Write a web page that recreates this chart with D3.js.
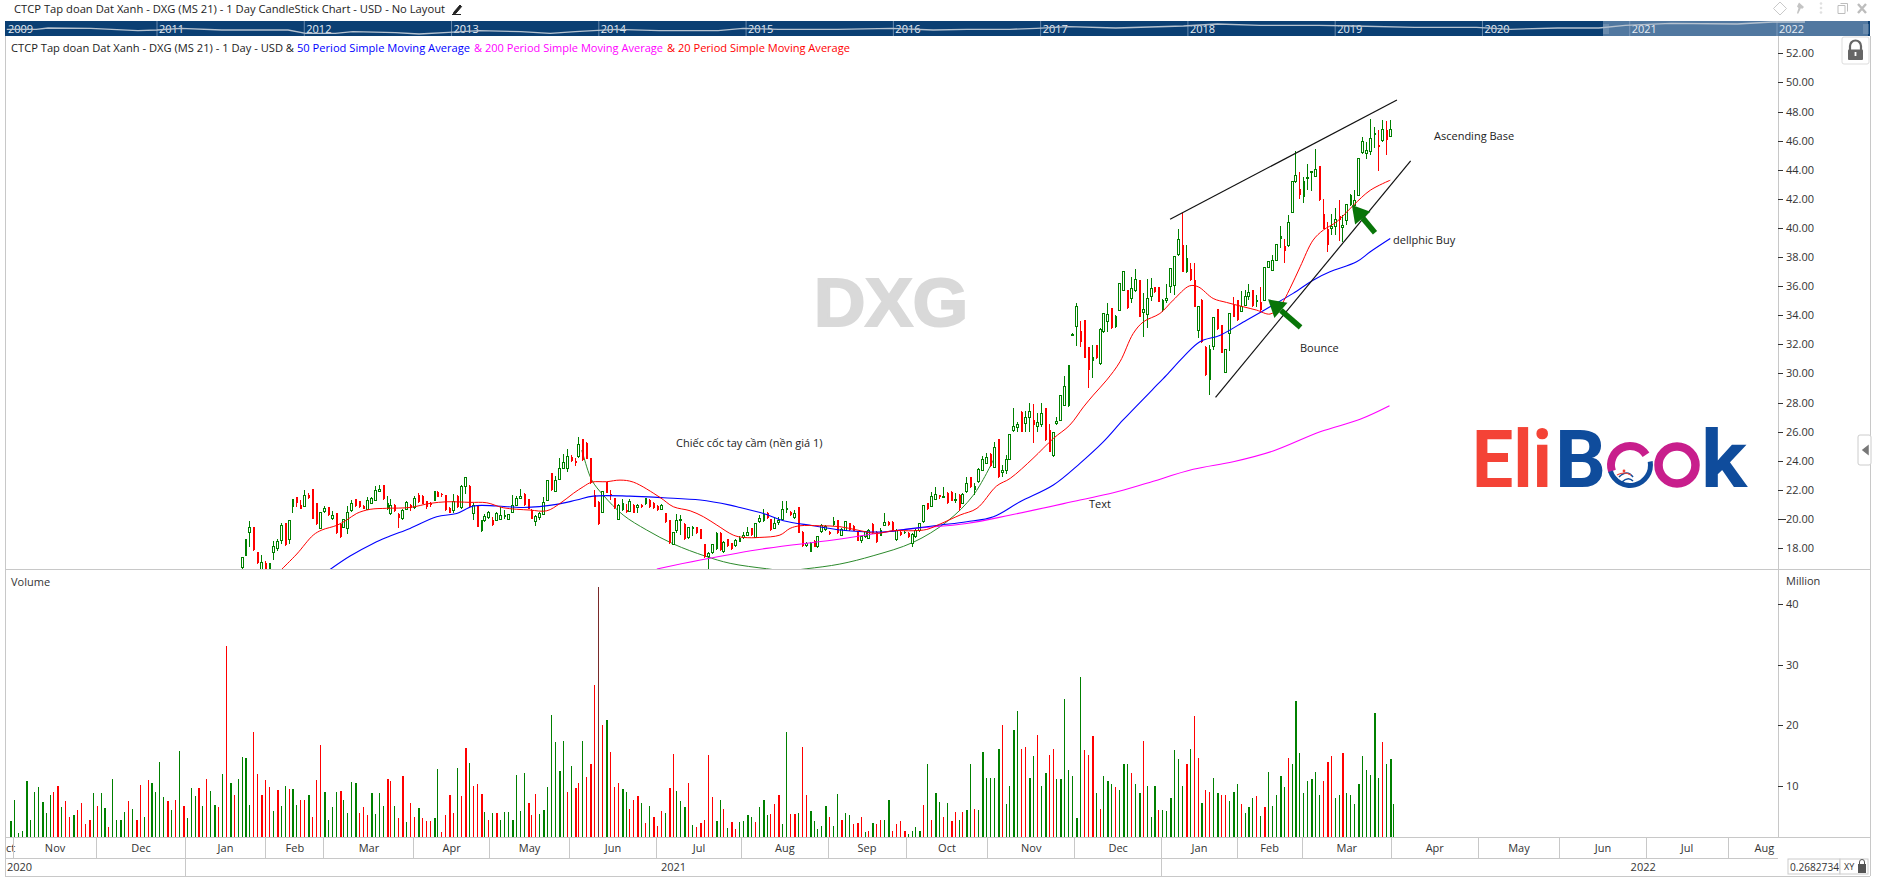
<!DOCTYPE html>
<html><head><meta charset="utf-8">
<script src="https://cdn.jsdelivr.net/npm/d3@7/dist/d3.min.js"></script>
<style>html,body{margin:0;padding:0;background:#fff;overflow:hidden}svg{display:block}text{font-family:"Open Sans",sans-serif}</style>
</head><body><svg id="c" width="1877" height="885"></svg>
<script>
// ---- DATA ----
const lastIndex = 352;              // sessions in view, 0..352
const firstCandle = 59;             // earlier candles lie below the price pane
// [high, open, close, low]
const ohlc = [
[17.4,16.65,17.36,16.45],[18.65,17.47,18.6,17.45],[19.85,19.05,19.42,18.1],[19.45,19.42,17.86,17.8],[17.75,17.72,16.95,16.9],[17.5,16.55,17.0,16.4],[17.1,16.95,16.53,16.4],[17.0,16.53,16.95,16.4],[18.5,17.68,18.14,17.18],[18.6,18.0,18.46,17.82],
[19.74,18.55,19.56,18.27],[19.75,19.69,18.2,18.15],[19.92,18.6,19.9,18.27],[21.36,20.84,21.34,20.43],[21.5,21.48,21.07,20.8],[21.3,20.95,20.7,20.65],[21.98,20.84,21.62,20.84],[21.8,21.62,21.43,21.39],[22.03,22.03,20.02,20.0],[21.07,21.07,19.65,19.6],
[20.43,19.33,20.43,19.33],[20.88,20.52,20.75,20.43],[20.84,20.84,20.29,20.2],[20.56,20.02,20.24,19.92],[20.4,20.38,19.0,18.95],[19.65,19.65,18.73,18.7],[20.02,19.42,19.97,19.37],[20.89,19.33,20.47,18.96],[21.3,20.56,21.07,20.5],[21.4,21.34,20.89,20.85],
[21.25,21.2,20.8,20.75],[20.95,20.89,20.7,20.65],[21.48,20.66,21.27,20.61],[21.5,21.07,21.39,21.0],[22.26,21.3,21.94,21.2],[22.3,21.89,22.03,21.89],[22.3,22.3,21.34,21.3],[21.6,20.65,21.07,20.6],[21.34,20.34,20.95,20.27],[21.05,20.98,20.56,20.5],
[20.38,20.34,20.06,19.37],[20.7,20.02,20.61,19.95],[21.2,20.66,21.11,20.6],[21.02,20.93,20.75,20.56],[21.6,20.79,21.39,20.7],[21.75,21.66,21.18,21.1],[21.65,21.57,21.02,21.0],[21.25,21.2,20.79,20.7],[21.15,21.11,20.93,20.8],[21.95,21.23,21.92,21.2],
[21.9,21.87,21.53,21.5],[21.75,21.71,21.62,21.48],[21.65,21.62,20.61,20.58],[20.8,20.75,20.43,20.4],[21.71,20.61,21.18,20.38],[21.62,21.57,20.79,20.75],[22.35,20.79,22.26,20.7],[22.86,22.26,22.86,21.7],[22.3,22.26,20.79,20.75],[21.07,20.34,20.89,19.92],
[20.92,20.89,19.47,19.45],[19.95,19.15,19.92,19.1],[20.34,19.88,20.15,19.81],[20.56,20.11,20.43,19.97],[20.1,19.92,19.56,19.5],[20.45,19.92,20.38,19.85],[20.84,19.97,20.24,19.92],[20.6,20.11,20.27,20.0],[20.35,19.97,20.31,19.9],[21.64,20.43,20.93,20.38],
[21.6,20.93,21.43,20.9],[22.03,21.39,21.53,21.34],[21.75,21.71,20.95,20.9],[21.38,21.34,20.7,20.65],[20.65,20.61,20.02,20.0],[20.3,19.83,20.2,19.5],[20.5,20.11,20.38,19.9],[21.48,20.29,21.11,20.27],[22.7,21.25,22.65,21.2],[23.15,23.13,21.98,21.9],
[22.95,21.89,22.67,21.85],[24.16,22.72,23.47,22.67],[24.45,23.47,23.86,23.4],[24.78,23.47,24.32,23.24],[24.4,24.27,24.0,23.9],[24.16,24.0,23.82,23.63],[25.6,24.27,25.14,24.2],[25.5,25.47,24.05,24.0],[25.3,25.24,24.14,24.1],[24.2,24.16,22.44,22.4],
[22.0,21.64,20.84,20.8],[21.25,21.18,19.65,19.6],[21.9,20.45,21.87,20.4],[22.55,22.53,21.8,21.75],[22.0,21.71,21.62,21.3],[21.45,21.41,20.73,20.7],[21.0,19.99,20.95,19.95],[21.35,20.6,21.07,20.55],[21.0,20.61,20.47,20.4],[21.4,20.5,21.18,20.45],
[21.0,20.95,20.43,20.4],[21.0,20.79,20.95,20.4],[21.02,20.98,20.79,20.75],[21.45,21.02,21.41,20.98],[21.35,21.3,20.79,20.75],[21.15,21.11,20.75,20.7],[20.95,20.89,20.61,20.55],[21.0,20.66,20.95,20.6],[20.42,20.38,19.81,19.75],[19.95,19.92,18.37,18.3],
[19.1,18.27,19.05,18.2],[20.31,19.19,19.92,19.0],[20.27,19.88,19.97,18.89],[19.7,19.65,18.6,18.55],[19.45,18.73,19.42,18.65],[19.5,19.33,19.42,18.8],[19.45,19.42,19.0,18.95],[19.32,19.28,18.64,18.6],[18.3,18.27,17.4,17.35],[17.7,17.4,17.63,16.5],
[18.3,17.68,18.27,17.6],[19.1,17.91,19.05,17.85],[19.1,19.05,17.86,17.8],[18.45,17.73,18.37,17.65],[18.65,18.6,18.14,18.1],[18.35,18.32,17.93,17.88],[18.64,18.16,18.5,18.09],[18.8,18.44,18.71,18.4],[19.1,18.73,18.85,18.6],[19.47,18.89,19.08,18.85],
[19.4,19.35,18.89,18.85],[19.75,18.73,19.69,18.7],[20.3,19.81,20.06,19.7],[20.66,19.88,20.34,19.8],[20.48,20.43,20.04,20.0],[20.0,19.97,19.24,19.2],[20.15,19.35,19.69,19.3],[20.1,19.74,19.88,19.6],[21.23,19.97,20.66,19.97],[21.2,20.61,20.73,20.4],
[20.55,20.5,20.27,20.2],[20.6,20.11,20.38,20.0],[20.85,20.79,19.05,19.0],[19.15,19.12,18.16,18.1],[18.4,18.18,18.32,18.1],[18.4,17.75,18.32,17.7],[18.55,18.5,18.09,18.05],[18.85,18.09,18.78,18.0],[19.65,19.12,19.58,19.05],[19.6,19.28,19.47,19.2],
[19.15,19.12,18.94,18.9],[20.11,19.56,19.88,19.5],[19.95,19.92,19.0,18.95],[19.35,18.89,19.28,18.8],[19.85,19.24,19.81,19.2],[19.75,19.69,19.24,19.2],[19.55,19.51,19.19,19.15],[19.15,19.12,18.5,18.45],[18.85,18.5,18.76,18.35],[19.2,18.78,19.12,18.7],
[19.3,18.64,19.24,18.6],[19.7,19.65,19.0,18.95],[19.15,19.12,18.39,18.35],[19.35,18.85,19.26,18.8],[20.38,19.53,19.76,19.5],[19.85,19.81,19.56,19.5],[19.85,19.81,19.24,19.2],[19.3,18.62,19.24,18.5],[19.15,19.12,18.89,18.85],[19.2,19.01,19.12,18.95],
[19.1,19.05,18.73,18.7],[19.0,18.32,18.94,18.1],[19.3,18.78,19.24,18.7],[19.75,19.19,19.69,19.1],[20.95,19.81,20.89,19.75],[21.1,21.07,20.66,20.6],[21.87,20.84,21.53,20.8],[22.17,21.34,21.69,21.3],[21.65,21.62,21.48,21.4],[22.17,21.48,21.53,21.45],
[21.85,21.8,21.11,21.05],[21.9,21.87,21.25,21.2],[21.76,21.25,21.34,21.11],[21.7,21.64,20.73,20.55],[21.75,21.07,21.69,21.0],[22.85,21.87,22.44,21.8],[22.9,22.85,22.17,22.1],[22.44,21.98,22.28,21.64],[23.5,22.56,23.43,22.5],[24.32,23.36,24.09,23.3],
[24.55,23.82,24.23,23.75],[24.5,24.46,23.63,23.58],[25.28,23.54,24.92,23.5],[25.5,25.47,22.85,22.8],[23.7,23.18,23.31,22.9],[24.4,23.31,24.11,23.1],[25.85,24.11,25.81,24.05],[27.6,26.06,26.34,26.0],[26.68,26.27,26.5,26.0],[27.4,27.37,25.99,25.95],
[27.43,26.56,26.98,26.0],[27.94,26.95,27.37,26.0],[27.89,26.79,26.45,25.24],[27.25,26.34,26.63,26.0],[27.94,26.5,27.25,26.34],[27.65,27.6,25.42,25.38],[26.52,26.11,24.62,24.58],[25.95,24.39,25.95,24.27],[27.02,26.56,26.68,26.45],[28.55,26.75,28.51,26.7],
[29.82,27.82,29.13,27.75],[30.6,27.78,30.55,27.7],[32.8,32.66,32.7,32.6],[34.81,33.2,34.58,31.88],[33.62,32.93,32.18,31.83],[33.7,33.66,31.08,31.03],[31.85,31.83,30.23,28.97],[31.95,30.87,31.14,29.66],[31.98,31.95,31.03,31.0],[33.1,30.69,33.05,30.6],
[34.15,32.86,34.12,32.8],[34.81,33.55,34.05,32.86],[34.5,34.47,33.09,33.05],[34.0,33.16,33.96,33.1],[36.2,34.35,36.18,34.3],[37.0,35.72,36.98,35.7],[35.75,35.72,34.47,34.42],[36.64,35.15,35.82,34.81],[37.21,35.72,36.46,35.61],[36.45,36.41,33.89,33.85],
[35.5,34.17,34.4,32.52],[36.5,34.08,35.15,33.1],[36.53,35.27,35.84,35.0],[35.95,35.91,35.61,35.55],[35.95,35.91,34.92,34.88],[35.1,34.35,35.04,34.2],[36.14,34.99,35.15,34.81],[37.25,35.95,37.21,35.5],[38.05,36.07,38.01,35.4],[39.96,38.17,39.23,38.1],
[41.0,38.82,36.98,36.95],[38.82,36.98,37.9,36.87],[37.6,37.21,36.41,36.35],[37.56,36.41,34.58,34.55],[34.62,32.93,34.58,32.41],[35.1,35.08,32.18,32.12],[31.87,31.83,29.89,29.85],[31.95,29.54,31.65,28.51],[33.9,31.83,33.85,31.6],[34.43,34.4,33.02,32.98],
[33.35,33.32,31.42,31.38],[31.7,30.05,31.65,30.0],[34.15,32.75,34.12,31.56],[35.27,34.69,33.89,33.85],[35.08,35.04,33.66,33.6],[35.68,34.24,34.58,34.2],[35.72,34.69,35.27,34.65],[36.18,35.31,35.59,35.04],[35.75,35.72,34.63,34.6],[35.4,34.9,35.08,34.6],
[35.91,34.92,34.35,34.3],[37.3,35.04,37.28,35.0],[37.7,37.28,37.67,37.25],[38.13,37.1,37.79,37.05],[38.9,37.74,38.86,37.7],[40.12,39.27,39.46,38.6],[39.23,38.77,38.43,37.6],[40.88,38.77,40.37,38.7],[43.2,41.06,43.17,41.0],[45.3,43.17,43.63,43.1],
[43.85,42.66,42.25,42.02],[43.51,42.14,43.21,41.68],[44.38,43.4,43.46,42.6],[43.9,43.79,43.88,42.53],[45.39,43.56,44.01,43.5],[44.28,44.24,41.9,41.85],[41.98,40.95,39.96,39.9],[40.42,39.96,38.82,38.36],[40.99,39.96,40.12,39.5],[41.4,40.08,40.58,39.5],
[41.91,40.81,40.53,39.11],[40.88,40.0,40.19,39.0],[41.65,40.49,41.61,40.2],[42.3,41.56,42.25,41.5],[42.64,41.56,41.9,41.5],[44.8,42.25,44.77,42.2],[46.26,45.16,45.91,45.1],[45.91,45.11,45.3,44.77],[47.47,45.23,46.14,45.0],[46.95,46.42,46.49,45.46],
[46.72,45.69,45.57,43.9],[47.4,45.98,46.76,45.9],[47.33,46.72,46.03,45.0],[47.4,46.26,46.76,46.26]
];
// million shares; sign = day direction (+ up, - down)
const volumes = [
4.3,7.8,2.3,2.6,10.8,4.4,9.1,9.8,7.4,5.5,8.5,-9.0,-10.0,6.5,-7.5,-5.0,5.2,-6.0,-7.2,-3.7,-4.4,8.8,-6.7,8.8,6.4,-3.2,11.1,4.4,4.5,5.7,-7.5,6.2,-4.4,-10.2,4.9,-11,10.5,9,14,8.2,-7.5,6,-7.7,15.8,-6.7,4.7,9.7,8.3,-9.7,6.7,-11.1,9.2,6.9,-6.5,12,-33.1,10.5,-8.5,11.1,14.8,14.6,6.9,-18.9,-12,-8.5,-11,-9.8,5.9,-9.3,6.7,10,-9.5,9.5,6.9,-7.7,-7.8,8.5,-4.9,-11,-16.8,9,4.4,6.5,9,-9.2,7.8,5.5,10.7,10.5,-5.5,-6.5,-5.2,8.8,5.4,8.8,6.7,-11.1,-10.8,6.7,-4.7,-11.6,4.1,-7.2,-5,6.4,-4.7,-4.2,-4.2,4.7,12.8,-2.4,-5.2,-8.5,-5.5,13,-8.3,-16.3,13.8,-10,-10.3,-8.7,5.7,-4.4,5.5,-5.5,4.5,5.7,5.7,4.5,11.8,5.9,12.1,-7.2,-5.2,-8.7,5.4,6,9.8,21.7,17.3,12.5,17.4,-9,13.3,-9.7,-10.5,17.4,-11.5,-13.6,-26.7,-42.8,-20,20.9,-15.6,-9.8,-10.5,9.5,9,-6.2,-7.7,-8.3,7.2,-3.9,6.7,-4.9,-3.4,-5.9,5.5,-9.7,-15.3,9.2,7.5,6.5,-10.5,3.6,-3.2,-3.9,-4.4,-15.1,-8.2,4.2,7.8,-6.2,3.1,-4.1,-2.9,4.1,4.2,5.2,5,-4.1,6.5,7.8,5.2,-5.4,-7,-8.5,3.7,18.9,-5.4,-5.4,5.5,-16.4,-8.5,5.9,4.2,2.9,3.4,6.7,-4.9,3.4,8.7,-4.4,5.5,5.2,-3.7,-3.9,-4.9,2.4,-2.6,3.9,-3.7,-4.5,4.5,7.8,-2.7,-3.7,-4.2,-2.7,2.1,2.6,3.2,2.7,-6.9,13.6,-4.4,8.8,7.4,-4.9,
7.3,-4.3,-5.8,4.5,-5.8,6.1,13.6,-6.3,6,15.7,11.4,11.3,11.4,16.2,-20,7.1,10.1,19.2,22.3,-16.2,-16.5,11.4,14.9,-18.5,10.1,12.1,-15.2,-16.2,11.1,11.1,24.3,12.7,11.7,4.8,27.9,-16,-15.2,-18.3,8.9,-6.3,11.7,10.9,10.3,-9.9,9.4,13.7,13.7,-12.2,10.3,8.8,-17.5,10.1,5,10.1,-6,6.1,5.9,8.1,16,14.4,10.1,-13.6,16.2,-21.6,-14.7,7.3,-9.3,-9.1,11.3,8.8,-8.5,-8.5,7.5,9.1,10.3,-7.1,5.6,6.5,8.1,-8.3,5.1,-6.6,12.4,6.8,8.6,11.7,9.8,-14.6,13.6,24.1,15.4,8.9,10.8,11.1,12.4,8.5,-10.9,-13.9,-15,8,8.5,-15.4,8.8,8.6,7,10.3,15,12.6,11.9,22,11.4,-17.2,13.7,14.4,7.1
];
// moving averages, read at vertices: [session, price]
const ma20 = [[69.2,16.53],[73.1,17.59],[77.3,18.89],[79.5,19.24],[83.3,19.56],[85.8,19.92],[88.4,20.38],[91.8,20.66],[96,20.73],[102,20.79],[107.1,21.07],[111.4,21.18],[117.3,21.14],[121.6,21.11],[125.8,20.77],[132.6,20.61],[136.9,20.56],[140.3,21.07],[143.7,21.76],[146.2,22.21],[148.4,22.53],[152.2,22.56],[155.6,22.67],[159,22.53],[165.8,21.48],[169.2,20.84],[173.5,20.56],[176.9,20.15],[180.3,19.58],[184.5,18.89],[187.1,18.73],[191.3,18.73],[196.4,18.89],[199,19.35],[201.5,19.53],[206.6,19.53],[211.7,19.47],[216.1,19.24],[221.1,19.01],[225.3,19.19],[230.4,19.19],[233.9,19.28],[237.3,19.65],[242.4,20.27],[246.7,20.73],[251.7,22.26],[255.2,22.79],[261,24.16],[266.2,25.53],[270.4,26.45],[273.9,27.7],[276.4,28.51],[279.8,29.54],[283.2,30.8],[286.6,32.75],[289.2,33.55],[293.4,34.12],[296.8,35.04],[301,36.02],[303.2,35.95],[307,35.15],[310.4,34.88],[314.7,34.58],[318.1,34.35],[321.5,34.08],[324,34.58],[326.6,35.84],[329.2,37.33],[332.5,39.16],[335.1,39.85],[338.5,40.42],[342.8,41.56],[347.1,42.59],[352.2,43.28]];
const ma50 = [[81.6,16.53],[86.7,17.45],[92.6,18.32],[96.9,18.82],[102,19.35],[108.8,20.15],[113.9,20.38],[118.2,20.89],[124.1,20.89],[130.9,20.79],[139.4,21.0],[144.5,21.3],[148.8,21.57],[158.1,21.57],[166.7,21.46],[176.1,21.3],[183.7,20.95],[186.2,20.79],[192.2,20.38],[197.3,19.88],[204.9,19.53],[211.7,19.24],[217.7,19.12],[223.6,19.12],[230.4,19.35],[237.3,19.58],[244.1,19.81],[250.9,20.15],[257.7,21.18],[266.2,22.33],[273,23.82],[279,25.31],[284,26.8],[291.4,28.86],[295.1,29.89],[299.4,31.14],[303.6,32.18],[308.8,32.63],[315.5,33.66],[321.5,34.58],[327.4,35.5],[332.5,36.41],[336.8,36.98],[343.6,37.67],[347.1,38.36],[352.2,39.27]];
const ma200 = [[165,16.56],[176.1,17.18],[193,17.98],[210,18.55],[227,19.24],[244.1,19.69],[255.3,20.27],[273,21.3],[281.5,21.8],[290,22.45],[301.9,23.41],[312.1,23.93],[322.3,24.67],[334.3,25.99],[344.5,26.85],[352,27.78]];
// hand-drawn objects on the chart
const cupCurve = [[145.8,24.73],[146.2,24.39],[148.4,22.67],[151.3,21.64],[156.4,20.27],[162.4,19.24],[169.3,18.27],[177.3,17.45],[183.7,16.95],[193,16.58],[198,16.44],[203.3,16.58],[211.7,16.9],[220.2,17.47],[230.4,18.39],[239,19.81],[245.8,21.64],[250.9,24.05]];
const trendTop = [[296,40.6],[353.9,48.79]];
const trendBottom = [[307.6,28.36],[357.4,44.6]];
const arrows = [[[329.3,33.17],[321,35.09]],[[348.3,39.67],[342.4,41.57]]];
const notes = [["Chiếc cốc tay cầm (nền giá 1)",676,443],["Ascending Base",1434,136],["dellphic Buy",1393,240],["Bounce",1300,348],["Text",1089,504]];
const priceTicks = d3.range(18,53,2);
const volumeTicks = [10,20,30,40];
const monthLabels = ["Oct","Nov","Dec","Jan","Feb","Mar","Apr","May","Jun","Jul","Aug","Sep","Oct","Nov","Dec","Jan","Feb","Mar","Apr","May","Jun","Jul","Aug"];
const monthStarts = [-3.4,0.7,22.1,44.6,65.2,80,103,122.2,142.8,164.8,186.7,208.7,228.6,249.5,271.6,293.9,313.1,329.7,352.5,374.6,395.5,417.5,438.4,457];
const yearLabels = ["2020","2021","2022"];
const yearStarts = [-3.4,44.6,293.9,539.6];
const navYears = [2009,2011,2012,2013,2014,2015,2016,2017,2018,2019,2020,2021,2022];
const navSeries = [[2009.98,20],[2010.18,20],[2010.26,24],[2010.55,23],[2010.87,16],[2011,18],[2011.16,23],[2011.44,18],[2011.89,18],[2012.01,8],[2012.21,8],[2012.33,13],[2012.62,10],[2012.78,6],[2012.98,11],[2013.19,16],[2013.47,13],[2013.67,8],[2013.84,13],[2014.12,20],[2014.41,16],[2014.81,16],[2014.98,23],[2015.22,20],[2015.62,20],[2015.99,23],[2016.27,18],[2016.5,20],[2016.79,20],[2016.97,23],[2017.19,28],[2017.51,24],[2017.97,30],[2018.2,36],[2018.49,32],[2018.89,32],[2019.13,30],[2019.54,26],[2019.96,26],[2020.19,20],[2020.51,24],[2020.79,24],[2020.97,32],[2021.28,38],[2021.73,36],[2021.97,42],[2022.19,42]];

// ---- SCALES ----
const x = d3.scaleLinear().domain([0,lastIndex]).range([10.4,1389.5]);
const y = d3.scaleLinear().domain([16.56,53.19]).range([569,36]);
const v = d3.scaleLinear().domain([1.63,40]).range([837,604]);
const navX = d3.scaleLinear().domain([2011,2022]).range([157,1777]);
const navY = d3.scaleLinear().domain([0,45]).range([36,21]);

const G="#008000",R="#ff0000",GRID="#c8c8c8",INK="#333";
const svg=d3.select("#c");
const defs=svg.append("defs");
defs.append("clipPath").attr("id","pp").append("rect").attr("x",5).attr("y",36).attr("width",1773).attr("height",533);
defs.append("clipPath").attr("id","bottom").append("rect").attr("x",5).attr("y",837).attr("width",1773).attr("height",40);
defs.append("clipPath").attr("id","navc").append("rect").attr("x",5).attr("y",21).attr("width",1865).attr("height",15);

function fitText(s,t,px,py,w,col,size){return s.append("text").attr("x",px).attr("y",py).attr("fill",col).attr("font-size",size).attr("textLength",w).attr("lengthAdjust","spacingAndGlyphs").text(t);}

// header
fitText(svg,"CTCP Tap doan Dat Xanh - DXG (MS 21) - 1 Day CandleStick Chart - USD - No Layout",14,13,431,"#222",11.5);
svg.append("path").attr("d","M452 14.5h9 M454 12l6-7 1.6 1.6-6 7-2.4 0.6z").attr("fill","#222").attr("stroke","#222").attr("stroke-width",1);
svg.append("path").attr("d","M1780 2l6.5 6.5-6.5 6.5-6.5-6.5z").attr("fill","none").attr("stroke","#c9c9c9");
svg.append("path").attr("d","M1799 2.5l5 4.5-2 2-1-1-3 6-1-1 1.5-5-1.5-1.5z").attr("fill","#c4c4c4");
svg.selectAll("circle.dot").data([3.5,8,12.5]).enter().append("circle").attr("cx",1821).attr("cy",d=>d).attr("r",1.3).attr("fill","#e0e0e0");
svg.append("path").attr("d","M1838 5.5h7v8h-7z M1840.5 3.5h7v8").attr("fill","none").attr("stroke","#bdbdbd");
svg.append("path").attr("d","M1858 4l8 9 M1866 4l-8 9").attr("stroke","#bdbdbd").attr("stroke-width",2.4);

// navigator
svg.append("rect").attr("x",5).attr("y",21).attr("width",1865).attr("height",15).attr("fill","#0b3f73");
svg.append("rect").attr("x",1603).attr("y",21).attr("width",265).attr("height",15).attr("fill","#5178a0");
const nav=svg.append("g").attr("clip-path","url(#navc)");
navYears.forEach((yr,i)=>{
  const px=i===0?6:navX(yr);
  if(i>0) nav.append("line").attr("x1",px).attr("x2",px).attr("y1",21).attr("y2",36).attr("stroke","#8fa8c4").attr("stroke-width",.7);
  nav.append("text").attr("x",px+2).attr("y",32.5).attr("fill","#e6edf5").attr("font-size",11).text(yr);
});
nav.append("path").attr("fill","none").attr("stroke","#b6c2cf").attr("stroke-width",1.3)
  .attr("d",d3.line().x(d=>navX(d[0])).y(d=>navY(d[1]))(navSeries));
[1604,1606,1608,1864,1866,1868].forEach(px=>nav.append("line").attr("x1",px).attr("x2",px).attr("y1",24).attr("y2",34).attr("stroke","#9db2c8").attr("stroke-width",.7));

// frame
const frame=svg.append("g").attr("stroke",GRID).attr("stroke-width",1).attr("shape-rendering","crispEdges");
[[5,36,5,876],[1778,36,1778,837],[1870,36,1870,876],[5,569,1870,569],[5,837,1870,837],[5,858,1778,858],[5,876,1870,876]].forEach(l=>frame.append("line").attr("x1",l[0]).attr("y1",l[1]).attr("x2",l[2]).attr("y2",l[3]));

// legend
const lg=[["CTCP Tap doan Dat Xanh - DXG (MS 21) - 1 Day - USD & ",11,283,"#222"],["50 Period Simple Moving Average",297,173,"#0000ff"],["& 200 Period Simple Moving Average",474,189,"#ff00ff"],["& 20 Period Simple Moving Average",667,183,"#ff0000"]];
lg.forEach(d=>fitText(svg,d[0],d[1],51.5,d[2],d[3],11.5));

// watermark
svg.append("text").attr("x",814).attr("y",326).attr("font-size",69).attr("font-weight",700).attr("style","font-family:'Liberation Sans'").attr("fill","#d9d9d9").attr("stroke","#d9d9d9").attr("stroke-width",2.2).attr("textLength",154).attr("lengthAdjust","spacingAndGlyphs").text("DXG");

// logo
const logo=svg.append("g");
logo.append("text").attr("x",1472).attr("y",487).attr("font-size",80).attr("font-weight",700).attr("style","font-family:Roboto").attr("fill","#f44336").attr("textLength",80).attr("lengthAdjust","spacingAndGlyphs").text("Eli");
logo.append("text").attr("x",1555).attr("y",487).attr("font-size",80).attr("font-weight",700).attr("style","font-family:Roboto").attr("fill","#0f4c9c").attr("textLength",51).attr("lengthAdjust","spacingAndGlyphs").text("B");
const arc=d3.arc();
logo.append("path").attr("transform","translate(1630,465)").attr("fill","#c81e8c").attr("d",arc({innerRadius:15,outerRadius:23,startAngle:-1.9,endAngle:1}));
logo.append("path").attr("transform","translate(1630,465)").attr("fill","#0f4c9c").attr("d",arc({innerRadius:18,outerRadius:23,startAngle:1.4,endAngle:4.4}));
logo.append("path").attr("d","M1619 477q8-8 14 0 M1622 482q6-6 11-1").attr("fill","none").attr("stroke","#0f4c9c").attr("stroke-width",1.6);
logo.append("circle").attr("cx",1624).attr("cy",471).attr("r",1.4).attr("fill","#f44336");
logo.append("path").attr("d","M1617 475q7-4 14 0").attr("fill","none").attr("stroke","#f44336").attr("stroke-width",1.2);
logo.append("circle").attr("cx",1677).attr("cy",465).attr("r",18.5).attr("fill","none").attr("stroke","#c81e8c").attr("stroke-width",8.5);
logo.append("text").attr("x",1701).attr("y",487).attr("font-size",80).attr("font-weight",700).attr("style","font-family:Roboto").attr("fill","#0f4c9c").attr("textLength",46).attr("lengthAdjust","spacingAndGlyphs").text("k");

// price pane
const pane=svg.append("g").attr("clip-path","url(#pp)");
const candles=ohlc.map((r,k)=>({i:firstCandle+k,h:r[0],o:r[1],c:r[2],l:r[3]}));
const line=d3.line().x(d=>x(d[0])).y(d=>y(d[1]));
const smooth=d3.line().x(d=>x(d[0])).y(d=>y(d[1])).curve(d3.curveCatmullRom.alpha(.5));

pane.append("path").attr("fill","none").attr("stroke","#2c8a2c").attr("stroke-width",1).attr("d",smooth(cupCurve));

const cg=pane.append("g").attr("shape-rendering","crispEdges");
candles.forEach(d=>{
  const up=d.c>=d.o, px=Math.round(x(d.i)), col=up?G:R;
  const top=y(Math.max(d.o,d.c)), bot=y(Math.min(d.o,d.c));
  cg.append("line").attr("x1",px+.5).attr("x2",px+.5).attr("y1",y(d.h)).attr("y2",y(d.l)).attr("stroke",col);
  const thin=d.i%6===0;
  if(up&&!thin) cg.append("rect").attr("x",px-.5).attr("y",top).attr("width",2).attr("height",Math.max(bot-top,1)).attr("fill","#fff").attr("stroke",col);
  else cg.append("rect").attr("x",px).attr("y",top).attr("width",2).attr("height",Math.max(bot-top,1)).attr("fill",col);
});

[[ma200,"#ff00ff",1.1],[ma50,"#0000ff",1.1],[ma20,"#ff0000",1]].forEach(s=>{
  pane.append("path").attr("fill","none").attr("stroke",s[1]).attr("stroke-width",s[2]).attr("d",smooth(s[0]));
});
[trendTop,trendBottom].forEach(t=>pane.append("path").attr("fill","none").attr("stroke","#111").attr("stroke-width",1.2).attr("d",line(t)));

// arrows
arrows.forEach(a=>{
  const x1=x(a[0][0]),y1=y(a[0][1]),x2=x(a[1][0]),y2=y(a[1][1]);
  const ang=Math.atan2(y2-y1,x2-x1),hl=17,hw=10;
  const bx=x2-hl*Math.cos(ang),by=y2-hl*Math.sin(ang);
  pane.append("line").attr("x1",x1).attr("y1",y1).attr("x2",bx).attr("y2",by).attr("stroke","#087508").attr("stroke-width",5.5);
  pane.append("polygon").attr("fill","#087508").attr("points",[[x2,y2],[bx-hw*Math.sin(ang),by+hw*Math.cos(ang)],[bx+hw*Math.sin(ang),by-hw*Math.cos(ang)]].join(" "));
});

notes.forEach(n=>svg.append("text").attr("x",n[1]).attr("y",n[2]).attr("dy","0.35em").attr("font-size",11).attr("fill","#222").text(n[0]));

// volume pane
svg.append("text").attr("x",11).attr("y",586).attr("font-size",11).attr("fill",INK).text("Volume");
svg.append("text").attr("x",1786).attr("y",585).attr("font-size",11).attr("fill",INK).text("Million");
svg.append("g").attr("shape-rendering","crispEdges").selectAll("rect").data(volumes).enter().append("rect")
  .attr("x",(d,i)=>Math.round(x(i))).attr("width",(d,i)=>(i%4===0&&Math.abs(d)<25?2:1))
  .attr("y",d=>v(Math.abs(d))).attr("height",d=>837-v(Math.abs(d)))
  .attr("fill",d=>Math.abs(d)>40?"#7a2a2a":(d>=0?G:R));

// axes
const fmt=d3.format(".2f");
const pAxis=svg.append("g").attr("transform","translate(1778,0)").call(d3.axisRight(y).tickValues(priceTicks).tickFormat(fmt).tickSize(5).tickPadding(3));
const vAxis=svg.append("g").attr("transform","translate(1778,0)").call(d3.axisRight(v).tickValues(volumeTicks).tickSize(5).tickPadding(3));
[pAxis,vAxis].forEach(a=>{a.select(".domain").remove();a.selectAll("text").attr("font-size",11).attr("fill",INK).attr("style","font-family:'Open Sans'");a.selectAll("line").attr("stroke","#333").attr("shape-rendering","crispEdges");});
pAxis.selectAll(".tick").filter(d=>d===20).select("line").attr("x2",8);

// time axis
const tg=svg.append("g").attr("clip-path","url(#bottom)");
monthLabels.forEach((m,k)=>{
  const a=x(monthStarts[k]),b=x(monthStarts[k+1]);
  if(k>0) tg.append("line").attr("x1",a).attr("x2",a).attr("y1",837).attr("y2",858).attr("stroke",GRID).attr("shape-rendering","crispEdges");
  if(k===0) tg.append("text").attr("x",6).attr("y",852).attr("font-size",11).attr("fill",INK).text(m.slice(1));
  else tg.append("text").attr("x",(a+b)/2).attr("y",852).attr("text-anchor","middle").attr("font-size",11).attr("fill",INK).text(m);
});
yearLabels.forEach((t,k)=>{
  const a=x(yearStarts[k]),b=x(yearStarts[k+1]);
  if(k>0) tg.append("line").attr("x1",a).attr("x2",a).attr("y1",858).attr("y2",876).attr("stroke",GRID).attr("shape-rendering","crispEdges");
  tg.append("text").attr("x",k===0?7:(a+b)/2).attr("y",871).attr("text-anchor",k===0?"start":"middle").attr("font-size",11).attr("fill",INK).text(t);
});

// lock and controls
svg.append("rect").attr("x",1842).attr("y",37).attr("width",27).attr("height",27).attr("rx",2).attr("fill","#fff").attr("stroke","#ddd");
svg.append("path").attr("d","M1850 50v-4a5.5 5.5 0 0 1 11 0v4").attr("fill","none").attr("stroke","#666").attr("stroke-width",2.2);
svg.append("rect").attr("x",1848).attr("y",49.5).attr("width",15).attr("height",10.5).attr("rx",1).attr("fill","#666");
svg.append("rect").attr("x",1854.6).attr("y",52).attr("width",1.8).attr("height",4).attr("fill","#fff");
svg.append("rect").attr("x",1858).attr("y",435).attr("width",13).attr("height",30).attr("rx",2).attr("fill","#fff").attr("stroke","#ccc");
svg.append("path").attr("d","M1868 446l-5 4 5 4z").attr("fill","#777").attr("stroke","#777").attr("stroke-width",1.5);
svg.append("rect").attr("x",1788).attr("y",859).attr("width",52).attr("height",15).attr("fill","#fff").attr("stroke","#ccc");
svg.append("text").attr("x",1790).attr("y",871).attr("font-size",11).attr("fill",INK).attr("textLength",49).attr("lengthAdjust","spacingAndGlyphs").text("0.2682734");
svg.append("rect").attr("x",1840).attr("y",859).attr("width",28).attr("height",15).attr("fill","#fff").attr("stroke","#ccc");
svg.append("text").attr("x",1844).attr("y",870).attr("font-size",9).attr("fill",INK).text("XY");
svg.append("rect").attr("x",1858).attr("y",864).attr("width",8).attr("height",9).attr("fill","#555");
svg.append("path").attr("d","M1859.5 864v-2a2.5 2.5 0 0 1 5 0v2").attr("fill","none").attr("stroke","#555");
</script></body></html>
